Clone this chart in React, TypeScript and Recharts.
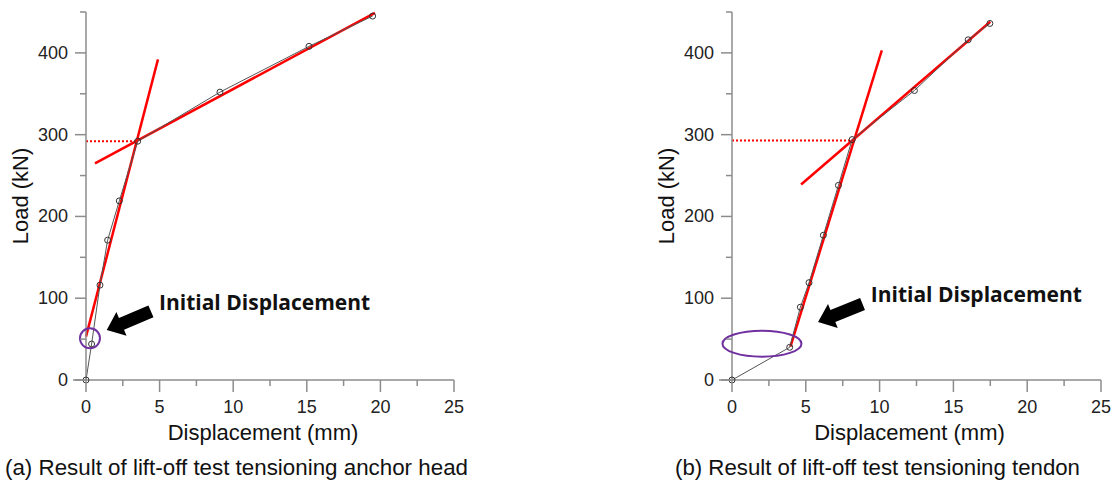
import React from 'react';
import { LineChart, Line, XAxis, YAxis, ReferenceDot } from 'recharts';

// (a) anchor head - measured points
const headDisp = [0, 0.38, 0.95, 1.47, 2.26, 3.51, 9.1, 15.15, 19.47];
const headLoad = [0, 44, 116, 171, 219, 292, 352, 408, 445];
// (a) fitted lines
const headSteepDisp = [0, 4.89];
const headSteepLoad = [53, 392];
const headFlatDisp = [0.61, 19.63];
const headFlatLoad = [265, 449];
const headLiftDisp = [0, 3.45];
const headLiftLoad = [292, 292];

// (b) tendon - measured points
const tendonDisp = [0, 3.91, 4.63, 5.22, 6.19, 7.21, 8.14, 12.36, 16.0, 17.47];
const tendonLoad = [0, 40, 89, 119, 177, 238, 294, 354, 416, 436];
// (b) fitted lines
const tendonSteepDisp = [3.96, 10.15];
const tendonSteepLoad = [40.7, 403];
const tendonFlatDisp = [4.68, 17.5];
const tendonFlatLoad = [239, 438];
const tendonLiftDisp = [0, 8.2];
const tendonLiftLoad = [293, 293];

const xTicks = [0, 2.5, 5, 7.5, 10, 12.5, 15, 17.5, 20, 22.5, 25];
const yTicks = [0, 50, 100, 150, 200, 250, 300, 350, 400, 450];

const captions = [
  '(a) Result of lift-off test tensioning anchor head',
  '(b) Result of lift-off test tensioning tendon',
];
const noteText = 'Initial Displacement';

const AXIS = '#8c8c8c';
const RED = '#ff0000';
const PURPLE = '#7030a0';
const FONT = "'Liberation Sans', Arial, sans-serif";

const toRows = (xs: number[], ys: number[]) => xs.map((x, i) => ({ x, y: ys[i] }));

const YTick = (props: any) => {
  const { x, y, payload } = props;
  const v = payload.value;
  const major = v % 100 === 0;
  return (
    <g>
      <line x1={x - (major ? 11 : 6)} x2={x} y1={y} y2={y} stroke={AXIS} strokeWidth={1.5} />
      {major && (
        <text x={x - 18} y={y} dy={6} textAnchor="end" fontSize={18} fill="#222" fontFamily={FONT}>
          {v}
        </text>
      )}
    </g>
  );
};

const XTick = (props: any) => {
  const { x, y, payload } = props;
  const v = payload.value;
  const major = v % 5 === 0;
  return (
    <g>
      <line x1={x} x2={x} y1={y} y2={y + (major ? 12 : 6)} stroke={AXIS} strokeWidth={1.5} />
      {v === 0 && <line x1={x - 13} x2={x} y1={y} y2={y} stroke={AXIS} strokeWidth={1.5} />}
      {major && (
        <text x={x} y={y + 33} textAnchor="middle" fontSize={18} fill="#222" fontFamily={FONT}>
          {v}
        </text>
      )}
    </g>
  );
};

const arrowShape = (angle: number) => (p: any) => (
  <polygon
    points="0,0 16,-13 16,-6.5 48,-6.5 48,6.5 16,6.5 16,13"
    transform={`translate(${p.cx},${p.cy}) rotate(${angle})`}
    fill="#000"
  />
);

const noteShape = (p: any) => (
  <text x={p.cx} y={p.cy} fontFamily="'Open Sans', 'Noto Sans', sans-serif" fontWeight={700} fontSize={21} fill="#111">
    {noteText}
  </text>
);

const ellipseShape = (p: any) => (
  <ellipse cx={p.cx} cy={p.cy} rx={39.5} ry={13} fill="none" stroke={PURPLE} strokeWidth={2} />
);

interface PanelProps {
  width: number;
  rightMargin: number;
  measured: { x: number; y: number }[];
  steep: { x: number; y: number }[];
  flat: { x: number; y: number }[];
  lift: { x: number; y: number }[];
  children?: React.ReactNode;
  labelDx: number;
}

const Panel = ({ width, rightMargin, measured, steep, flat, lift, children, labelDx }: PanelProps) => (
  <LineChart width={width} height={452} margin={{ top: 12, right: rightMargin, left: 0, bottom: 0 }}>
    <XAxis
      type="number"
      dataKey="x"
      domain={[0, 25]}
      ticks={xTicks}
      interval={0}
      tickSize={0}
      tickMargin={0}
      tickLine={false}
      tick={XTick}
      height={72}
      axisLine={{ stroke: AXIS, strokeWidth: 1.5 }}
      label={{ value: 'Displacement (mm)', position: 'insideTop', dx: labelDx, dy: 39, fontSize: 22, fill: '#111', fontFamily: FONT }}
    />
    <YAxis
      type="number"
      dataKey="y"
      domain={[0, 450]}
      ticks={yTicks}
      interval={0}
      tickSize={0}
      tickMargin={0}
      tickLine={false}
      tick={YTick}
      width={86}
      axisLine={{ stroke: AXIS, strokeWidth: 1.5 }}
      label={{ value: 'Load (kN)', angle: -90, position: 'center', dx: -23, fontSize: 22, fill: '#111', fontFamily: FONT }}
    />
    <Line data={lift} dataKey="y" stroke={RED} strokeWidth={2} strokeDasharray="2 2" dot={false} isAnimationActive={false} />
    <Line data={steep} dataKey="y" stroke={RED} strokeWidth={2.5} dot={false} isAnimationActive={false} />
    <Line data={flat} dataKey="y" stroke={RED} strokeWidth={2.5} dot={false} isAnimationActive={false} />
    <Line
      data={measured}
      dataKey="y"
      stroke="#555"
      strokeWidth={1}
      dot={{ r: 3, stroke: '#333', strokeWidth: 1, fill: 'none' }}
      isAnimationActive={false}
    />
    {children}
  </LineChart>
);

export default function App() {
  return (
    <div style={{ position: 'absolute', left: 0, top: 0, width: 1115, height: 481, background: '#fff', overflow: 'hidden' }}>
      <svg style={{ position: 'absolute', left: 0, top: 440 }} width={1115} height={41}>
        <text x={5} y={35} fontSize={21.5} fill="#111" fontFamily={FONT} textLength={463} lengthAdjust="spacingAndGlyphs">
          {captions[0]}
        </text>
        <text x={675} y={35} fontSize={21.5} fill="#111" fontFamily={FONT} textLength={405} lengthAdjust="spacingAndGlyphs">
          {captions[1]}
        </text>
      </svg>
      <div style={{ position: 'absolute', left: 0, top: 0 }}>
        <Panel
          width={470}
          rightMargin={16}
          labelDx={-7}
          measured={toRows(headDisp, headLoad)}
          steep={toRows(headSteepDisp, headSteepLoad)}
          flat={toRows(headFlatDisp, headFlatLoad)}
          lift={toRows(headLiftDisp, headLiftLoad)}
        >
          <ReferenceDot x={0.27} y={51} r={10} fill="none" stroke={PURPLE} strokeWidth={2} />
          <ReferenceDot x={1.41} y={61} r={1} shape={arrowShape(-23)} />
          <ReferenceDot x={4.96} y={85.6} r={1} shape={noteShape} />
        </Panel>
      </div>
      <div style={{ position: 'absolute', left: 646, top: 0 }}>
        <Panel
          width={469}
          rightMargin={14}
          labelDx={-7}
          measured={toRows(tendonDisp, tendonLoad)}
          steep={toRows(tendonSteepDisp, tendonSteepLoad)}
          flat={toRows(tendonFlatDisp, tendonFlatLoad)}
          lift={toRows(tendonLiftDisp, tendonLiftLoad)}
        >
          <ReferenceDot x={2.03} y={44.4} r={1} shape={ellipseShape} />
          <ReferenceDot x={5.83} y={71} r={1} shape={arrowShape(-22)} />
          <ReferenceDot x={9.4} y={95.7} r={1} shape={noteShape} />
        </Panel>
      </div>
    </div>
  );
}
